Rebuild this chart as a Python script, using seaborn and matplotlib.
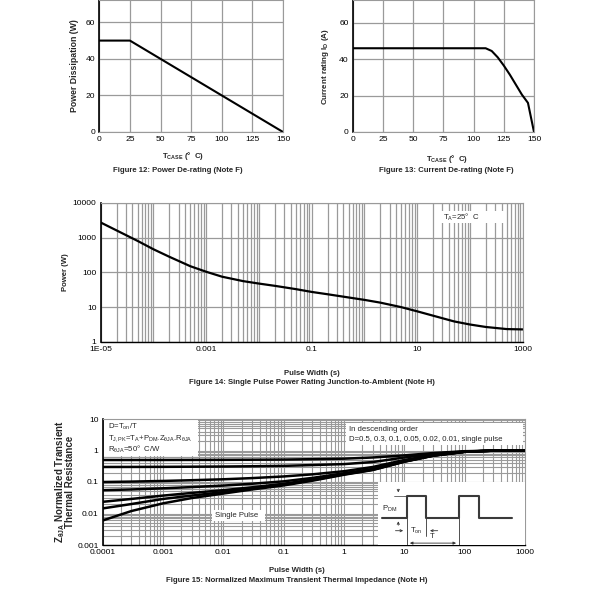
import numpy as np
import pandas as pd
import seaborn as sns
import matplotlib
matplotlib.use("Agg")
import matplotlib.pyplot as plt
from matplotlib.patches import Rectangle
from matplotlib.ticker import LogLocator, FixedLocator, NullFormatter

# ---------------- data ----------------
tcase_p = [0, 25, 150]
power_diss = [50, 50, 0]

tcase_i = [0, 110, 115, 120, 125, 130, 135, 140, 145, 150]
current_id = [46, 46, 44.5, 41, 36.5, 31.5, 26, 20.5, 16, 0]

pulse_w14 = [1e-5, 2e-5, 5e-5, 1e-4, 2e-4, 5e-4, 1e-3, 2e-3, 5e-3, 1e-2, 2e-2, 5e-2,
             0.1, 0.2, 0.5, 1, 2, 5, 10, 20, 50, 100, 200, 500, 1000]
power_pk = [2700, 1600, 800, 460, 280, 150, 104, 75, 56, 47.6, 41, 33,
            27.4, 23.5, 19, 16.2, 13.5, 10, 7.6, 5.7, 3.9, 3.18, 2.7, 2.35, 2.3]

pulse_w15 = [1e-4, 3e-4, 1e-3, 3e-3, 1e-2, 3e-2, 0.1, 0.3, 1, 3, 10, 30, 100, 300, 1000]
z_d05 = [0.5, 0.5, 0.501, 0.503, 0.506, 0.51, 0.516, 0.53, 0.55, 0.6, 0.7, 0.83, 0.95, 0.99, 1.0]
z_d03 = [0.3, 0.301, 0.303, 0.306, 0.31, 0.316, 0.325, 0.345, 0.37, 0.43, 0.6, 0.78, 0.93, 0.99, 1.0]
z_d01 = [0.1, 0.103, 0.108, 0.114, 0.122, 0.133, 0.15, 0.175, 0.22, 0.3, 0.5, 0.72, 0.92, 0.99, 1.0]
z_d005 = [0.055, 0.058, 0.063, 0.069, 0.077, 0.088, 0.105, 0.135, 0.19, 0.26, 0.46, 0.7, 0.91, 0.99, 1.0]
z_d002 = [0.0235, 0.029, 0.037, 0.045, 0.055, 0.068, 0.088, 0.12, 0.18, 0.25, 0.45, 0.69, 0.91, 0.99, 1.0]
z_d001 = [0.0145, 0.02, 0.029, 0.037, 0.048, 0.062, 0.082, 0.115, 0.175, 0.245, 0.445, 0.685, 0.91, 0.99, 1.0]
z_single = [0.006, 0.012, 0.021, 0.031, 0.043, 0.058, 0.078, 0.11, 0.17, 0.24, 0.44, 0.68, 0.91, 0.99, 1.0]

x14_ticks = [1e-5, 1e-3, 1e-1, 10, 1000]
x14_labels = ["1E-05", "0.001", "0.1", "10", "1000"]
y14_ticks = [1, 10, 100, 1000, 10000]
y14_labels = ["1", "10", "100", "1000", "10000"]
x15_ticks = [1e-4, 1e-3, 1e-2, 0.1, 1, 10, 100, 1000]
x15_labels = ["0.0001", "0.001", "0.01", "0.1", "1", "10", "100", "1000"]
y15_ticks = [0.001, 0.01, 0.1, 1, 10]
y15_labels = ["0.001", "0.01", "0.1", "1", "10"]

# ---------------- style ----------------
sns.set_style("white")
plt.rcParams['font.family'] = ['Liberation Sans', 'DejaVu Sans']
plt.rcParams['mathtext.fontset'] = 'custom'
plt.rcParams['mathtext.rm'] = 'Liberation Sans'
plt.rcParams['mathtext.it'] = 'Liberation Sans:italic'
plt.rcParams['mathtext.bf'] = 'Liberation Sans:bold'

GRID = '#9a9a9a'
TFS = 6.1
LFS = 5.6
BFS = 5.6

fig = plt.figure(figsize=(6, 6), dpi=100)


def px_axes(x0, x1, y0, y1):
    return fig.add_axes([x0 / 600, 1 - y1 / 600, (x1 - x0) / 600, (y1 - y0) / 600])


def style_axes(ax, dark_bottom=False):
    for s in ax.spines.values():
        s.set_color(GRID)
        s.set_linewidth(0.8)
    ax.spines['left'].set_color('black')
    ax.spines['left'].set_linewidth(1.2)
    if dark_bottom:
        ax.spines['bottom'].set_color('black')
        ax.spines['bottom'].set_linewidth(1.0)
    ax.tick_params(axis='both', which='both', length=0, labelsize=TFS, pad=3, colors='black')
    ax.set_axisbelow(True)


# ---------- Figure 12 ----------
ax1 = px_axes(99.3, 283, 0, 132)
sns.lineplot(x=tcase_p, y=power_diss, ax=ax1, color='black', lw=1.5)
ax1.set_xlim(0, 150)
ax1.set_ylim(0, 72.2)
ax1.set_xticks([0, 25, 50, 75, 100, 125, 150])
ax1.set_yticks([0, 20, 40, 60])
style_axes(ax1)
ax1.grid(True, color=GRID, lw=0.9)
ax1.set_xlabel('')
ax1.set_ylabel('Power Dissipation (W)', fontsize=6.3, fontweight='bold', labelpad=5)

fig.text(183 / 600, 1 - 155.5 / 600, r'T$_{\mathbf{CASE}}$ (°  C)', fontsize=LFS, fontweight='bold',
         ha='center', va='center')
fig.text(178 / 600, 1 - 170 / 600, 'Figure 12: Power De-rating (Note F)', fontsize=LFS, fontweight='bold',
         ha='center', va='center')

# ---------- Figure 13 ----------
ax2 = px_axes(352.7, 534, 0, 132)
sns.lineplot(x=tcase_i, y=current_id, ax=ax2, color='black', lw=1.5)
ax2.set_xlim(0, 150)
ax2.set_ylim(0, 72.5)
ax2.set_xticks([0, 25, 50, 75, 100, 125, 150])
ax2.set_yticks([0, 20, 40, 60])
style_axes(ax2)
ax2.grid(True, color=GRID, lw=0.9)
ax2.set_xlabel('')
ax2.set_ylabel(r'Current rating I$_{\mathbf{D}}$ (A)', fontsize=5.8, fontweight='bold', labelpad=6)
fig.text(446.7 / 600, 1 - 159 / 600, r'T$_{\mathbf{CASE}}$ (°  C)', fontsize=LFS, fontweight='bold',
         ha='center', va='center')
fig.text(446.7 / 600, 1 - 170 / 600, 'Figure 13: Current De-rating (Note F)', fontsize=LFS, fontweight='bold',
         ha='center', va='center')

# ---------- Figure 14 ----------
ax3 = px_axes(100.7, 522.7, 202.7, 342)
sns.lineplot(x=pulse_w14, y=power_pk, ax=ax3, color='black', lw=1.6)
ax3.set_xscale('log')
ax3.set_yscale('log')
ax3.set_xlim(1e-5, 1000)
ax3.set_ylim(1, 10000)
ax3.xaxis.set_major_locator(FixedLocator(x14_ticks))
ax3.set_xticklabels(x14_labels)
ax3.yaxis.set_major_locator(FixedLocator(y14_ticks))
ax3.set_yticklabels(y14_labels)
ax3.xaxis.set_minor_locator(LogLocator(base=10, subs=np.arange(1, 10), numticks=100))
ax3.xaxis.set_minor_formatter(NullFormatter())
ax3.yaxis.set_minor_formatter(NullFormatter())
ax3.yaxis.set_minor_locator(FixedLocator([]))
style_axes(ax3, dark_bottom=True)
ax3.grid(True, which='major', axis='y', color=GRID, lw=0.9)
ax3.grid(True, which='both', axis='x', color=GRID, lw=0.9)
ax3.set_xlabel('')
ax3.set_ylabel('Power (W)', fontsize=LFS, fontweight='bold', labelpad=3)
ax3.add_patch(Rectangle((0.805, 0.855), 0.15, 0.085, transform=ax3.transAxes, facecolor='white',
                        edgecolor='none', zorder=2.5))
ax3.text(0.812, 0.897, r'T$_{\mathregular{A}}$=25°  C', transform=ax3.transAxes, fontsize=BFS,
         va='center', ha='left', zorder=3)
fig.text(311.7 / 600, 1 - 373.3 / 600, 'Pulse Width (s)', fontsize=LFS, fontweight='bold',
         ha='center', va='center')
fig.text(311.7 / 600, 1 - 382.7 / 600, 'Figure 14: Single Pulse Power Rating Junction-to-Ambient (Note H)',
         fontsize=LFS, fontweight='bold', ha='center', va='center')

# ---------- Figure 15 ----------
ax4 = px_axes(102.7, 525, 419, 545)
curves = [z_d05, z_d03, z_d01, z_d005, z_d002, z_d001, z_single]
for zc in curves:
    sns.lineplot(x=pulse_w15, y=zc, ax=ax4, color='black', lw=1.8, zorder=3)
ax4.set_xscale('log')
ax4.set_yscale('log')
ax4.set_xlim(1e-4, 1000)
ax4.set_ylim(0.001, 10)
ax4.xaxis.set_major_locator(FixedLocator(x15_ticks))
ax4.set_xticklabels(x15_labels)
ax4.yaxis.set_major_locator(FixedLocator(y15_ticks))
ax4.set_yticklabels(y15_labels)
ax4.xaxis.set_minor_locator(LogLocator(base=10, subs=np.arange(1, 10), numticks=100))
ax4.yaxis.set_minor_locator(LogLocator(base=10, subs=np.arange(1, 10), numticks=100))
ax4.xaxis.set_minor_formatter(NullFormatter())
ax4.yaxis.set_minor_formatter(NullFormatter())
style_axes(ax4, dark_bottom=True)
ax4.grid(True, which='both', color=GRID, lw=0.8)
ax4.set_xlabel('')
ax4.set_ylabel(r'Z$_{\mathbf{\theta JA}}$ Normalized Transient' + '\nThermal Resistance',
               fontsize=7.0, fontweight='bold', labelpad=1.5, linespacing=0.8)

# text boxes
ax4.add_patch(Rectangle((0.002, 0.71), 0.224, 0.28, transform=ax4.transAxes, facecolor='white',
                        edgecolor='none', zorder=2.5))
ax4.text(0.012, 0.935, r'D=T$_{\mathregular{on}}$/T', transform=ax4.transAxes, fontsize=BFS, va='center', zorder=4)
ax4.text(0.012, 0.845, r'T$_{\mathregular{J,PK}}$=T$_{\mathregular{A}}$+P$_{\mathregular{DM}}$.Z$_{\mathregular{\theta JA}}$.R$_{\mathregular{\theta JA}}$',
         transform=ax4.transAxes, fontsize=BFS, va='center', zorder=4)
ax4.text(0.012, 0.755, r'R$_{\mathregular{\theta JA}}$=50°  C/W', transform=ax4.transAxes, fontsize=BFS,
         va='center', zorder=4)

ax4.add_patch(Rectangle((0.575, 0.79), 0.42, 0.18, transform=ax4.transAxes, facecolor='white',
                        edgecolor='none', zorder=2.5))
ax4.text(0.583, 0.915, 'In descending order', transform=ax4.transAxes, fontsize=BFS, va='center', zorder=4)
ax4.text(0.583, 0.835, 'D=0.5, 0.3, 0.1, 0.05, 0.02, 0.01, single pulse', transform=ax4.transAxes,
         fontsize=BFS, va='center', zorder=4)

ax4.add_patch(Rectangle((0.26, 0.19), 0.125, 0.085, transform=ax4.transAxes, facecolor='white',
                        edgecolor='none', zorder=2.5))
ax4.text(0.265, 0.232, 'Single Pulse', transform=ax4.transAxes, fontsize=BFS, va='center', zorder=4)

# inset pulse diagram
ins = px_axes(378, 525, 482, 545)
ins.set_xlim(0, 1)
ins.set_ylim(0, 1)
ins.axis('off')
ins.add_patch(Rectangle((0, 0), 1, 1, facecolor='white', edgecolor='none'))
wave_x = [0.029, 0.195, 0.195, 0.327, 0.327, 0.553, 0.553, 0.689, 0.689, 0.914]
wave_y = [0.433, 0.433, 0.778, 0.778, 0.433, 0.433, 0.778, 0.778, 0.433, 0.433]
ins.plot(wave_x, wave_y, color='#3a3a3a', lw=1.5)
WC = '#333333'
ins.plot([0.11, 0.195], [0.778, 0.778], color=WC, lw=0.5)
ins.annotate('', xy=(0.138, 0.79), xytext=(0.138, 0.93),
             arrowprops=dict(arrowstyle='->', color=WC, lw=0.6, mutation_scale=4))
ins.annotate('', xy=(0.138, 0.42), xytext=(0.138, 0.27),
             arrowprops=dict(arrowstyle='->', color=WC, lw=0.6, mutation_scale=4))
ins.text(0.03, 0.58, r'P$_{\mathregular{DM}}$', fontsize=BFS, va='center')
ins.plot([0.195, 0.195], [0.433, 0.0], color=WC, lw=0.6)
ins.plot([0.327, 0.327], [0.433, 0.15], color=WC, lw=0.6)
ins.plot([0.553, 0.553], [0.433, 0.0], color=WC, lw=0.6)
ins.annotate('', xy=(0.19, 0.227), xytext=(0.1, 0.227),
             arrowprops=dict(arrowstyle='->', color=WC, lw=0.6, mutation_scale=4))
ins.annotate('', xy=(0.335, 0.227), xytext=(0.425, 0.227),
             arrowprops=dict(arrowstyle='->', color=WC, lw=0.6, mutation_scale=4))
ins.text(0.215, 0.22, r'T$_{\mathregular{on}}$', fontsize=BFS, va='center')
ins.annotate('', xy=(0.55, 0.03), xytext=(0.198, 0.03),
             arrowprops=dict(arrowstyle='<|-|>', color=WC, lw=0.6, mutation_scale=4))
ins.text(0.35, 0.13, 'T', fontsize=BFS, va='center')

fig.text(296.7 / 600, 1 - 570.7 / 600, 'Pulse Width (s)', fontsize=LFS, fontweight='bold',
         ha='center', va='center')
fig.text(296.7 / 600, 1 - 581 / 600, 'Figure 15: Normalized Maximum Transient Thermal Impedance (Note H)',
         fontsize=LFS, fontweight='bold', ha='center', va='center')

fig.savefig('out.png', dpi=100, facecolor='white')
